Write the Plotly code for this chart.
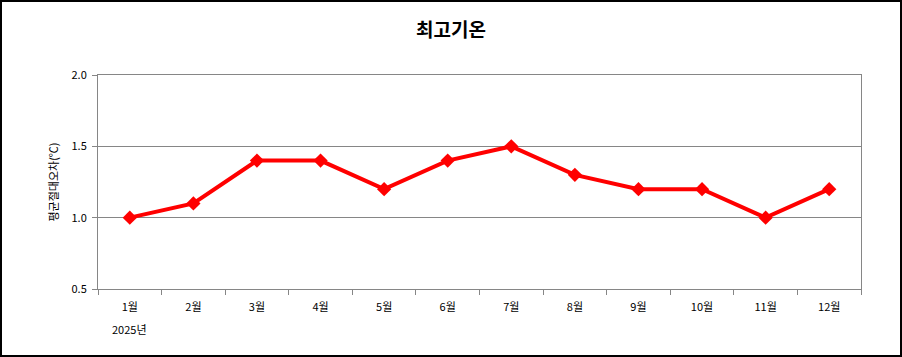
import plotly.graph_objects as go

months = ["1월", "2월", "3월", "4월", "5월", "6월", "7월", "8월", "9월", "10월", "11월", "12월"]
mae = [1.0, 1.1, 1.4, 1.4, 1.2, 1.4, 1.5, 1.3, 1.2, 1.2, 1.0, 1.2]
title = "최고기온"
y_title = "평균절대오차(℃)"
year_label = "2025년"

W, H = 902, 357
ml, mr, mt, mb = 98, 41, 75, 68
pw, ph = W - ml - mr, H - mt - mb

font_family = "Noto Sans CJK KR, DejaVu Sans, sans-serif"

fig = go.Figure()
fig.add_trace(go.Scatter(
    x=months, y=mae, mode="lines+markers",
    line=dict(color="#ff0000", width=4),
    marker=dict(symbol="diamond", size=11, color="#ff0000"),
    showlegend=False,
))

fig.update_layout(
    width=W, height=H,
    margin=dict(l=ml, r=mr, t=mt, b=mb),
    paper_bgcolor="white", plot_bgcolor="white",
    font=dict(family=font_family, size=11, color="#000000"),
    title=dict(text="<b>" + title + "</b>", x=0.5, xanchor="center", y=1 - 30 / H, yanchor="middle",
               font=dict(size=19, color="#000000", family=font_family)),
    xaxis=dict(
        type="category", tickson="boundaries", ticks="outside", ticklen=5,
        tickcolor="#868686", showline=True, linecolor="#868686", linewidth=1,
        mirror=True, showgrid=False, range=[-0.5, 11.5],
        tickfont=dict(size=11), automargin=False, ticklabelstandoff=8,
    ),
    yaxis=dict(
        range=[0.5, 2.0], dtick=0.5, tick0=0.5, tickformat=".1f",
        ticks="outside", ticklen=5, tickcolor="#868686",
        showline=True, linecolor="#868686", linewidth=1, mirror=True,
        showgrid=True, gridcolor="#868686", gridwidth=1,
        zeroline=False, tickfont=dict(size=11), automargin=False,
        ticklabelstandoff=3,
        title=dict(text=y_title, font=dict(size=11), standoff=10),
    ),
    shapes=[dict(
        type="rect", xref="paper", yref="paper",
        x0=-(ml - 1) / pw, x1=1 + (mr - 1) / pw,
        y0=-(mb - 1) / ph, y1=1 + (mt - 1) / ph,
        line=dict(color="#000000", width=2), fillcolor="rgba(0,0,0,0)", layer="below",
    )],
    annotations=[dict(
        text=year_label, xref="x", yref="paper", x=months[0], y=-(329 - mt - ph) / ph,
        xanchor="center", yanchor="middle", showarrow=False, font=dict(size=11),
    )],
)

fig.write_html("out.html")
